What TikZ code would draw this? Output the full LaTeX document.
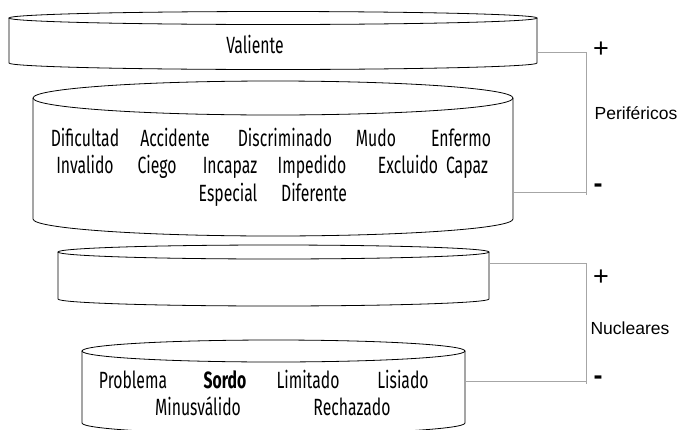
\documentclass[tikz,border=0pt]{standalone}
\usepackage{fontspec}
\setmainfont{Liberation Sans}
\newfontfamily\agency[FakeStretch=0.67]{Fira Sans}

\begin{document}
\begin{tikzpicture}[x=1pt,y=-1pt,
  every node/.style={inner sep=0pt, outer sep=0pt},
  cyl/.style={draw=black, line width=0.8pt},
  word/.style={font=\agency\fontsize{23.5}{26}\selectfont, anchor=base},
  link/.style={draw=black!35, line width=1pt},
  sign/.style={font=\fontsize{27}{30}\selectfont},
  level/.style={font=\fontsize{17.5}{20}\selectfont}]
\useasboundingbox (0,0) rectangle (678,429);
\clip (0,0) rectangle (678,429);

% cylinders
\draw[cyl] (9,18) -- (9,63) arc[start angle=180, end angle=0, x radius=264, y radius=6.5] -- (537,18);
\draw[cyl] (273,18) ellipse [x radius=264, y radius=6.5];
\draw[cyl] (33,98) -- (33,219) arc[start angle=180, end angle=0, x radius=240, y radius=17] -- (513,98);
\draw[cyl] (273,98) ellipse [x radius=240, y radius=17];
\draw[cyl] (58,252) -- (58,299) arc[start angle=180, end angle=0, x radius=215.5, y radius=7] -- (489,252);
\draw[cyl] (273.5,252) ellipse [x radius=215.5, y radius=7];
\draw[cyl] (82,351) -- (82,423) arc[start angle=180, end angle=0, x radius=191.5, y radius=11] -- (465,351);
\draw[cyl] (273.5,351) ellipse [x radius=191.5, y radius=11];

\node[word] (valiente) at (255,53) {Valiente};

\node[word] (dificultad) at (85,146) {Dificultad};
\node[word] (accidente) at (175,146) {Accidente};
\node[word] (discriminado) at (285,146) {Discriminado};
\node[word] (mudo) at (376,146) {Mudo};
\node[word] (enfermo) at (461,146) {Enfermo};
\node[word] (invalido) at (85,173) {Invalido};
\node[word] (ciego) at (157,173) {Ciego};
\node[word] (incapaz) at (230,173) {Incapaz};
\node[word] (impedido) at (312,173) {Impedido};
\node[word] (excluido) at (408,173) {Excluido};
\node[word] (capaz) at (467,173) {Capaz};
\node[word] (especial) at (228,201) {Especial};
\node[word] (diferente) at (314,201) {Diferente};

\node[word] (problema) at (133,388) {Problema};
\node[word] (sordo) at (225,388) {\bfseries Sordo};
\node[word] (limitado) at (308,388) {Limitado};
\node[word] (lisiado) at (403,388) {Lisiado};
\node[word] (minusvalido) at (198,415) {Minusválido};
\node[word] (rechazado) at (352,415) {Rechazado};

% connectors
\coordinate (c1r) at (537,52);
\coordinate (c2r) at (513,192);
\coordinate (c3r) at (489,263);
\coordinate (c4r) at (465,381);
\coordinate (k1top) at (586,52);
\coordinate (k1bot) at (586,192);
\coordinate (k2top) at (586,263);
\coordinate (k2bot) at (586,381);
\draw[link] (c1r) -- (k1top) -- (k1bot) -- (c2r);
\draw[link] (k1bot) -- ++(0,3);
\draw[link] (c3r) -- (k2top) -- (k2bot) -- (c4r);
\draw[link] (k2bot) -- ++(0,3);

\node[sign] (plus1) at (601,50) {+};
\node[sign] (minus1) at (598,188) {\textbf{-}};
\node[level] (perif) at (636,113) {Periféricos};
\node[sign] (plus2) at (601,278) {+};
\node[sign] (minus2) at (598,380) {\textbf{-}};
\node[level] (nucl) at (630,328) {Nucleares};
\end{tikzpicture}
\end{document}
